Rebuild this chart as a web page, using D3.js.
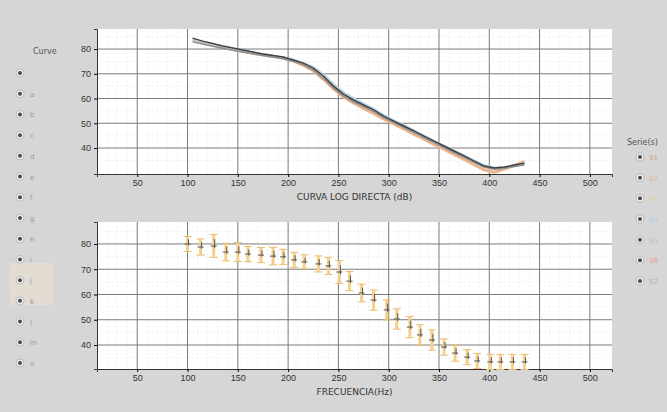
<!DOCTYPE html>
<html>
<head>
<meta charset="utf-8">
<script src="https://cdn.jsdelivr.net/npm/d3@7"></script>
<style>
  body { margin: 0; background: #d6d6d6; }
  svg { display: block; font-family: "DejaVu Sans", sans-serif; }
</style>
</head>
<body>
<svg id="chart"></svg>
<script>
// ---- data ----
const xTicks = [50, 100, 150, 200, 250, 300, 350, 400, 450, 500];
const yTicks = [40, 50, 60, 70, 80];

const topX = [105, 115, 125, 135, 145, 155, 165, 175, 185, 195, 205, 215, 225, 235, 245, 255, 265,
              275, 285, 295, 305, 315, 325, 335, 345, 355, 365, 375, 385, 395, 405, 415, 425, 435];
const curveDark = [84.4, 83.2, 82.2, 81.2, 80.4, 79.6, 78.8, 78.0, 77.4, 76.8, 75.6, 74.3, 72.3, 69.1, 65.1, 61.8, 59.4,
                   57.4, 55.4, 52.9, 50.9, 48.9, 46.9, 44.8, 42.8, 40.8, 38.8, 36.8, 34.7, 32.7, 31.9, 32.3, 33.1, 33.9];
const curveGray = [82.9, 82.0, 81.1, 80.3, 79.5, 78.8, 78.1, 77.4, 76.8, 76.1, 75.0, 73.6, 71.5, 68.2, 64.3, 61.0, 58.7,
                   56.7, 54.7, 52.3, 50.3, 48.3, 46.3, 44.2, 42.2, 40.2, 38.2, 36.2, 34.2, 32.3, 31.4, 31.8, 32.5, 33.2];
const curveOrange = [83.6, 82.6, 81.6, 80.6, 79.8, 79.0, 78.3, 77.6, 77.0, 76.4, 75.2, 73.5, 71.2, 67.8, 64.0, 60.6, 58.2,
                     56.0, 54.0, 51.8, 49.7, 47.7, 45.6, 43.6, 41.5, 39.5, 37.4, 35.4, 33.3, 31.2, 30.2, 31.5, 33.0, 34.6];
const curveBlue = [84.0, 82.9, 81.9, 81.0, 80.2, 79.4, 78.6, 77.9, 77.3, 76.7, 75.8, 74.6, 72.8, 69.8, 66.0, 62.6, 60.2,
                   58.0, 55.9, 53.4, 51.3, 49.2, 47.2, 45.1, 43.0, 41.0, 39.0, 37.0, 35.0, 33.0, 32.2, 32.0, 32.6, 33.3];

const bottomX = [100, 113, 126, 138, 150, 160, 173, 185, 195, 206, 216, 230, 240, 251, 261, 273, 285,
                 298, 308, 321, 331, 343, 355, 366, 378, 388, 401, 411, 423, 435];
const bottomMean = [80.0, 78.8, 79.2, 76.8, 76.8, 76.0, 75.6, 75.2, 74.9, 73.7, 72.9, 72.1, 71.3, 68.9, 65.3,
                    60.6, 57.8, 53.9, 50.3, 47.1, 44.0, 42.0, 39.2, 36.8, 35.2, 33.7, 33.3, 33.3, 33.3, 33.3];
const bottomErr = [3.0, 3.2, 4.5, 3.5, 3.8, 3.0, 3.0, 3.5, 3.0, 3.0, 2.8, 3.2, 3.4, 4.5, 3.8,
                   3.5, 4.0, 4.0, 4.0, 4.2, 4.0, 4.0, 3.2, 3.2, 3.0, 3.0, 3.0, 3.0, 3.0, 3.0];

const curveNames = ["", "a", "b", "c", "d", "e", "f", "g", "h", "i", "j", "k", "l", "m", "n"];
const seriesNames = ["S1", "S2", "S3", "S4", "S5", "S6", "S7"];
const seriesColors = ["#c9a48f", "#e9b38f", "#e6cc88", "#a9cfe0", "#a9cfa9", "#e29a9a", "#bca4bc"];

// ---- layout ----
const width = 667, height = 412;
const svg = d3.select("#chart").attr("width", width).attr("height", height);
svg.append("rect").attr("width", width).attr("height", height).attr("fill", "#d6d6d6");

const xScale = d3.scaleLinear().domain([10, 522]).range([97, 612]);

function drawPanel(top, bottom, yDomain, title) {
    const yScale = d3.scaleLinear().domain(yDomain).range([bottom, top]);
    const g = svg.append("g");

    g.append("rect")
        .attr("x", xScale.range()[0]).attr("y", top)
        .attr("width", xScale.range()[1] - xScale.range()[0]).attr("height", bottom - top)
        .attr("fill", "#fff");

    // minor grid
    const minorX = d3.range(20, 520, 10).filter(v => v % 50 !== 0);
    g.selectAll(".minor-x").data(minorX).join("line")
        .attr("x1", d => xScale(d)).attr("x2", d => xScale(d))
        .attr("y1", top).attr("y2", bottom)
        .attr("stroke", "#e4e4e4").attr("stroke-dasharray", "1,3");
    const minorY = d3.range(35, 90, 5).filter(v => v % 10 !== 0 && v > yDomain[0] && v < yDomain[1]);
    g.selectAll(".minor-y").data(minorY).join("line")
        .attr("x1", xScale.range()[0]).attr("x2", xScale.range()[1])
        .attr("y1", d => yScale(d)).attr("y2", d => yScale(d))
        .attr("stroke", "#e4e4e4").attr("stroke-dasharray", "1,3");

    // major grid
    g.selectAll(".major-x").data(xTicks).join("line")
        .attr("x1", d => xScale(d)).attr("x2", d => xScale(d))
        .attr("y1", top).attr("y2", bottom)
        .attr("stroke", "#7a7a7a");
    g.selectAll(".major-y").data(yTicks).join("line")
        .attr("x1", xScale.range()[0]).attr("x2", xScale.range()[1])
        .attr("y1", d => yScale(d)).attr("y2", d => yScale(d))
        .attr("stroke", "#7a7a7a");

    // axes
    const xAxis = g.append("g")
        .attr("transform", `translate(0, ${bottom})`)
        .call(d3.axisBottom(xScale).tickValues(xTicks).tickSize(3).tickPadding(3));
    xAxis.select(".domain").attr("stroke", "#333");
    xAxis.selectAll("text").style("font-size", "9px").attr("fill", "#333");

    const yAxis = g.append("g")
        .attr("transform", `translate(${xScale.range()[0]}, 0)`)
        .call(d3.axisLeft(yScale).tickValues(yTicks).tickSize(3).tickPadding(3));
    yAxis.select(".domain").attr("stroke", "#333");
    yAxis.selectAll("text").style("font-size", "9px").attr("fill", "#333");

    g.append("text")
        .attr("x", (xScale.range()[0] + xScale.range()[1]) / 2)
        .attr("y", bottom + 26)
        .attr("text-anchor", "middle")
        .style("font-size", "9px")
        .attr("fill", "#333")
        .text(title);

    return { g, yScale };
}

// ---- top panel: curves ----
const topPanel = drawPanel(29, 174, [29.5, 88.1], "CURVA LOG DIRECTA (dB)");
const topSeries = [
    { values: curveOrange, color: "#eab48c", w: 3 },
    { values: curveBlue, color: "#b8d6ea", w: 2 },
    { values: curveGray, color: "#8e8e8e", w: 1.5 },
    { values: curveDark, color: "#404040", w: 1.5 }
];
const line = d3.line()
    .x((d, i) => xScale(topX[i]))
    .y(d => topPanel.yScale(d));
topPanel.g.selectAll(".curve").data(topSeries).join("path")
    .attr("d", d => line(d.values))
    .attr("fill", "none")
    .attr("stroke", d => d.color)
    .attr("stroke-width", d => d.w)
    .attr("stroke-linejoin", "round");

// ---- bottom panel: error bars ----
const botPanel = drawPanel(222, 369, [30.5, 88.7], "FRECUENCIA(Hz)");
const yB = botPanel.yScale;
const bars = botPanel.g.selectAll(".bar").data(bottomX.map((x, i) => ({ x, m: bottomMean[i], e: bottomErr[i] })))
    .join("g");
bars.append("line")
    .attr("x1", d => xScale(d.x)).attr("x2", d => xScale(d.x))
    .attr("y1", d => yB(d.m + d.e)).attr("y2", d => yB(d.m - d.e))
    .attr("stroke", "#f4d08a").attr("stroke-width", 3);
bars.append("line")
    .attr("x1", d => xScale(d.x) - 4).attr("x2", d => xScale(d.x) + 4)
    .attr("y1", d => yB(d.m + d.e)).attr("y2", d => yB(d.m + d.e))
    .attr("stroke", "#ebbb70").attr("stroke-width", 1);
bars.append("line")
    .attr("x1", d => xScale(d.x) - 4).attr("x2", d => xScale(d.x) + 4)
    .attr("y1", d => yB(d.m - d.e)).attr("y2", d => yB(d.m - d.e))
    .attr("stroke", "#ebbb70").attr("stroke-width", 1);
bars.append("line")
    .attr("x1", d => xScale(d.x) + 1).attr("x2", d => xScale(d.x) + 1)
    .attr("y1", d => yB(d.m + d.e * 0.6)).attr("y2", d => yB(d.m - d.e * 0.2))
    .attr("stroke", "#555").attr("stroke-width", 1);
bars.append("line")
    .attr("x1", d => xScale(d.x) - 3).attr("x2", d => xScale(d.x) + 3)
    .attr("y1", d => yB(d.m)).attr("y2", d => yB(d.m))
    .attr("stroke", "#555").attr("stroke-width", 1);

// ---- left legend ----
const left = svg.append("g");
left.append("rect").attr("x", 10).attr("y", 263).attr("width", 43).attr("height", 42).attr("fill", "#e2dcd2");
left.append("text").attr("x", 33).attr("y", 54).style("font-size", "8px").attr("fill", "#555").text("Curve");
const rowY = d3.scaleLinear().domain([0, curveNames.length - 1]).range([73, 363]);
const rows = left.selectAll(".row").data(curveNames).join("g")
    .attr("transform", (d, i) => `translate(20, ${rowY(i)})`);
rows.append("circle").attr("r", 4).attr("fill", "#eee").attr("stroke", "#bbb");
rows.append("circle").attr("r", 2).attr("fill", "#4a4a4a");
rows.append("text").attr("x", 10).attr("y", 3).style("font-size", "7px").attr("fill", "#999").text(d => d);

// ---- right legend ----
const right = svg.append("g");
right.append("text").attr("x", 627).attr("y", 145).style("font-size", "8px").attr("fill", "#555").text("Serie(s)");
const rY = d3.scaleLinear().domain([0, seriesNames.length - 1]).range([157, 281]);
const rRows = right.selectAll(".rrow").data(seriesNames).join("g")
    .attr("transform", (d, i) => `translate(640, ${rY(i)})`);
rRows.append("circle").attr("r", 4).attr("fill", "#eee").attr("stroke", "#bbb");
rRows.append("circle").attr("r", 2).attr("fill", "#4a4a4a");
rRows.append("text").attr("x", 9).attr("y", 3).style("font-size", "7px")
    .attr("fill", (d, i) => seriesColors[i]).text(d => d);
</script>
</body>
</html>
